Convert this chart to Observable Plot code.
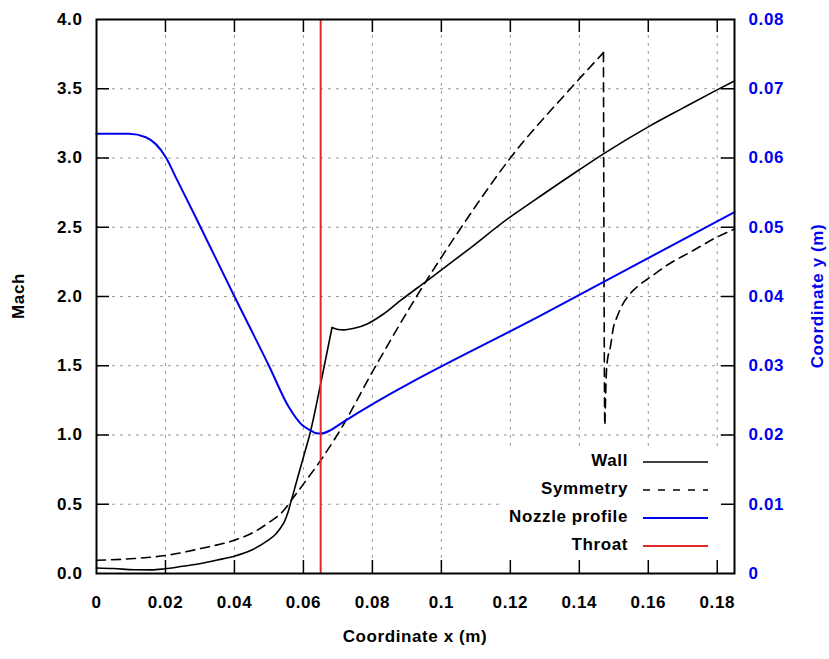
<!DOCTYPE html>
<html><head><meta charset="utf-8">
<script src="https://cdn.jsdelivr.net/npm/d3@7"></script>
<script src="https://cdn.jsdelivr.net/npm/@observablehq/plot@0.6"></script>
<style>
body{margin:0;background:#fff}
#chart svg{font-family:"Liberation Sans",Arial,Helvetica,sans-serif;font-weight:bold;font-size:17px;letter-spacing:0.6px;}
</style>
</head><body><div id="chart"></div>
<script>
// ---- data ----
const wallX    = [0, 0.0050, 0.0109, 0.0160, 0.0196, 0.0250, 0.0302, 0.0350, 0.0399, 0.0450, 0.0495, 0.0520, 0.0534, 0.0545, 0.0555, 0.0563, 0.0582, 0.0600, 0.0620, 0.0650, 0.0683, 0.0700, 0.0717, 0.0750, 0.0785, 0.0830, 0.0881, 0.0959, 0.1074, 0.1200, 0.1267, 0.1400, 0.1470, 0.1605, 0.1700, 0.1798, 0.1850];
const wallMach = [0.040, 0.036, 0.027, 0.026, 0.033, 0.052, 0.072, 0.097, 0.125, 0.170, 0.235, 0.285, 0.330, 0.375, 0.440, 0.510, 0.680, 0.840, 1.020, 1.370, 1.776, 1.762, 1.759, 1.772, 1.802, 1.870, 1.970, 2.115, 2.331, 2.575, 2.690, 2.915, 3.030, 3.232, 3.360, 3.490, 3.557];
const wallKinkX = 0.0683;

const symX    = [0, 0.0109, 0.0206, 0.0302, 0.0399, 0.0450, 0.0495, 0.0543, 0.0572, 0.0601, 0.0650, 0.0698, 0.0810, 0.0928, 0.1058, 0.1200, 0.1374, 0.1470, 0.1474, 0.1476, 0.1478, 0.1481, 0.1490, 0.1499, 0.1509, 0.1525, 0.1547, 0.1575, 0.1605, 0.1660, 0.1721, 0.1798, 0.1850];
const symMach = [0.096, 0.108, 0.132, 0.180, 0.240, 0.290, 0.360, 0.456, 0.552, 0.649, 0.817, 1.000, 1.500, 2.000, 2.500, 3.000, 3.500, 3.761, 1.070, 1.250, 1.420, 1.530, 1.634, 1.778, 1.850, 1.940, 2.019, 2.085, 2.138, 2.235, 2.319, 2.427, 2.487];
const symShockX = 0.1470;

const nozzleX = [0, 0.0094, 0.0143, 0.0201, 0.0230, 0.0288, 0.0399, 0.0500, 0.0558, 0.0597, 0.0620, 0.0635, 0.0650, 0.0679, 0.0707, 0.1316, 0.1850];
const nozzleY = [0.0635, 0.0635, 0.0630, 0.0601, 0.0572, 0.0514, 0.0401, 0.0300, 0.0240, 0.0214, 0.0207, 0.0203, 0.0202, 0.0207, 0.0216, 0.0380, 0.0522];

const throatX = [0.065];

const xTicks = [0, 0.02, 0.04, 0.06, 0.08, 0.10, 0.12, 0.14, 0.16, 0.18];
const machTicks = [0, 0.5, 1.0, 1.5, 2.0, 2.5, 3.0, 3.5, 4.0];
const yCoordTicks = [0, 0.01, 0.02, 0.03, 0.04, 0.05, 0.06, 0.07, 0.08];
const legendLabels = ["Wall", "Symmetry", "Nozzle profile", "Throat"];

// ---- styling / layout ----
const W = 829, H = 659;
const mL = 96, mR = 95, mT = 19, mB = 86;
const pW = W - mL - mR, pH = H - mT - mB;
const TICK = 13;
const BLUE = "#0000f0", RED = "#e4262b", GRID = "#9a9a9a";
const machPerMetre = 4 / 0.08; // right axis 0..0.08 maps onto Mach 0..4

// split a series into two pieces at a sharp corner (the corner point belongs to both)
function split(xs, ys, kx) {
  const out = [];
  xs.forEach((x, i) => {
    if (x <= kx) out.push({x, y: ys[i], seg: 0});
    if (x >= kx) out.push({x, y: ys[i], seg: 1});
  });
  return out;
}
const wall = split(wallX, wallMach, wallKinkX);
const sym = split(symX, symMach, symShockX);
const noz = nozzleX.map((x, i) => ({x, y: nozzleY[i] * machPerMetre}));
const yTickMach = yCoordTicks.map(v => v * machPerMetre);

const fmtX = d => String(+d.toFixed(2));
const inner = a => a.filter((d, i) => i > 0 && i < a.length - 1);

const chart = Plot.plot({
  width: W, height: H,
  marginLeft: mL, marginRight: mR, marginTop: mT, marginBottom: mB,
  style: {fontFamily: '"Liberation Sans",Arial,sans-serif', fontSize: "17px", fontWeight: "bold", overflow: "visible"},
  x: {domain: [0, 0.185], axis: null},
  y: {domain: [0, 4], axis: null},
  marks: [
    // grid
    Plot.ruleX(xTicks.slice(1), {stroke: GRID, strokeWidth: 1, strokeDasharray: "3,5"}),
    Plot.ruleY(inner(machTicks), {stroke: GRID, strokeWidth: 1, strokeDasharray: "3,5"}),
    // data
    Plot.line(sym, {x: "x", y: "y", z: "seg", stroke: "#000", strokeWidth: 1.6, strokeDasharray: "9,6", curve: "monotone-x"}),
    Plot.line(wall, {x: "x", y: "y", z: "seg", stroke: "#000", strokeWidth: 1.6, curve: "monotone-x"}),
    Plot.line(noz, {x: "x", y: "y", stroke: BLUE, strokeWidth: 2, curve: "monotone-x"}),
    Plot.ruleX(throatX, {stroke: RED, strokeWidth: 2}),
    // inward ticks
    Plot.ruleX(xTicks.slice(1), {stroke: "#000", strokeWidth: 1.5, insetTop: pH - TICK}),
    Plot.ruleX(xTicks.slice(1), {stroke: "#000", strokeWidth: 1.5, insetBottom: pH - TICK}),
    Plot.ruleY(inner(machTicks), {stroke: "#000", strokeWidth: 1.5, insetRight: pW - TICK}),
    Plot.ruleY(inner(yTickMach), {stroke: "#000", strokeWidth: 1.5, insetLeft: pW - TICK}),
    Plot.frame({stroke: "#000", strokeWidth: 2}),
    // axes labels
    Plot.axisX(xTicks, {tickSize: 0, tickPadding: 22, tickFormat: fmtX, label: null}),
    Plot.axisY(machTicks, {anchor: "left", tickSize: 0, tickPadding: 14, tickFormat: d3.format(".1f"), label: null}),
    Plot.axisY(yTickMach, {anchor: "right", tickSize: 0, tickPadding: 14, color: BLUE, tickFormat: d => String(+(d / machPerMetre).toFixed(2)), label: null})
  ]
});

document.getElementById("chart").appendChild(chart);
const svg = d3.select(chart);

// legend background (covers grid only)
const firstLine = chart.querySelector('g[aria-label="line"]');
const bg = document.createElementNS("http://www.w3.org/2000/svg", "rect");
bg.setAttribute("x", 503); bg.setAttribute("y", 447);
bg.setAttribute("width", 230); bg.setAttribute("height", 125);
bg.setAttribute("fill", "#fff");
firstLine.parentNode.insertBefore(bg, firstLine);

// axis titles
svg.append("text").attr("transform", "translate(20,296) rotate(-90)")
  .attr("text-anchor", "middle").attr("dominant-baseline", "middle").attr("fill", "#000").text("Mach");
svg.append("text").attr("x", mL + pW / 2).attr("y", 638)
  .attr("text-anchor", "middle").attr("dominant-baseline", "middle").attr("fill", "#000").text("Coordinate x (m)");
svg.append("text").attr("transform", "translate(819,296) rotate(-90)")
  .attr("text-anchor", "middle").attr("dominant-baseline", "middle").attr("fill", BLUE).text("Coordinate y (m)");

// legend
const legStyles = [
  {stroke: "#000", dash: null, w: 1.6},
  {stroke: "#000", dash: "7,8", w: 1.6},
  {stroke: BLUE, dash: null, w: 2},
  {stroke: RED, dash: null, w: 2}
];
const rowsY = [462, 490, 518, 546];
legendLabels.forEach((lab, i) => {
  svg.append("text").attr("x", 628).attr("y", rowsY[i]).attr("text-anchor", "end")
    .attr("dominant-baseline", "middle").attr("fill", "#000").text(lab);
  const l = svg.append("line").attr("x1", 643).attr("x2", 708).attr("y1", rowsY[i]).attr("y2", rowsY[i])
    .attr("stroke", legStyles[i].stroke).attr("stroke-width", legStyles[i].w);
  if (legStyles[i].dash) l.attr("stroke-dasharray", legStyles[i].dash);
});
</script>
</body></html>
